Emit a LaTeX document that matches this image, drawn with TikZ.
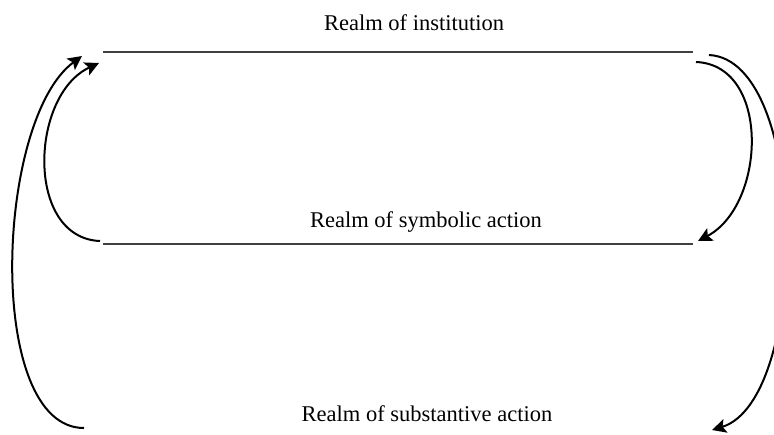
\documentclass[tikz,border=0pt]{standalone}
\usepackage{fontspec}
\setmainfont{Liberation Serif}
\usetikzlibrary{arrows.meta}
\begin{document}
\begin{tikzpicture}[x=0.5pt,y=-0.5pt,
    realm/.style={line width=1.15pt,draw=black!75},
    loopback/.style={line width=1pt,-{Stealth[length=7pt,width=7pt,inset=1.5pt]}},
    realmname/.style={font=\fontsize{11.25}{13.5}\selectfont,anchor=base,inner sep=0pt}]
    \useasboundingbox (0,0) rectangle (774,434);
    % the realms
    \node[realmname] (inst) at (414,30) {Realm of institution};
    \node[realmname] (symb) at (426,227) {Realm of symbolic action};
    \node[realmname] (subst) at (427,421) {Realm of substantive action};
    \coordinate (inst-w) at (103,52);
    \coordinate (inst-e) at (693,52);
    \coordinate (symb-w) at (103,244);
    \coordinate (symb-e) at (693,244);
    \draw[realm] (inst-w) -- (inst-e);
    \draw[realm] (symb-w) -- (symb-e);
    % loop ends
    \coordinate (in-w) at (99,63);
    \coordinate (out-w) at (82,56);
    \coordinate (in-e) at (696,62);
    \coordinate (out-e) at (709,55);
    \coordinate (symb-sw) at (100,241);
    \coordinate (symb-se) at (698,241);
    \coordinate (subst-w) at (84,428);
    \coordinate (subst-e) at (712,430);
    % left loops
    \draw[loopback] (symb-sw) .. controls (25,238) and (30,95) .. (in-w);
    \draw[loopback] (subst-w) .. controls (-15,428) and (-5,120) .. (out-w);
    % right loops
    \draw[loopback] (in-e) .. controls (771,65) and (766,205) .. (symb-se);
    \draw[loopback] (out-e) .. controls (810,60) and (810,400) .. (subst-e);
\end{tikzpicture}
\end{document}
